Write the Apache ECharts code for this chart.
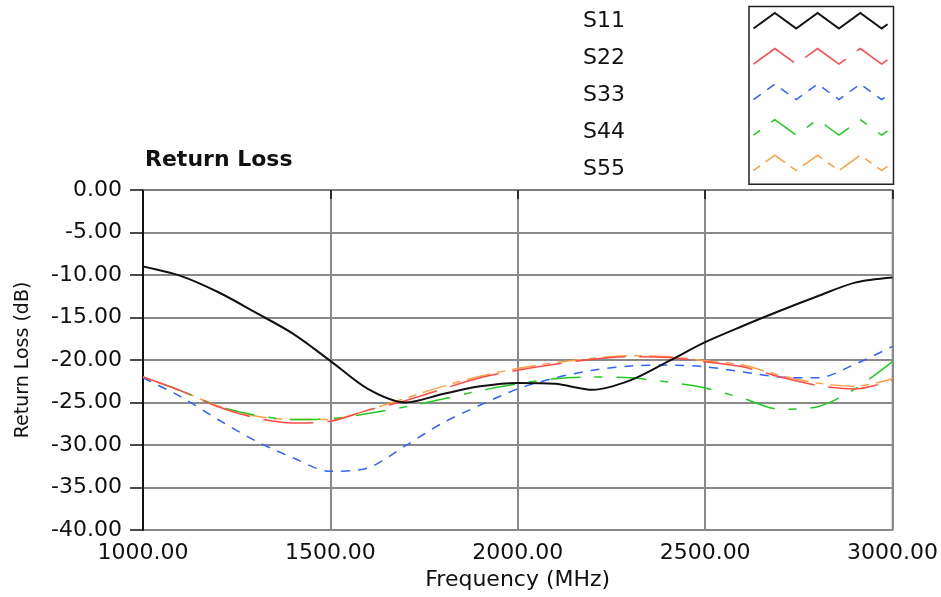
<!DOCTYPE html>
<html>
<head>
<meta charset="utf-8">
<script src="https://cdn.jsdelivr.net/npm/echarts@6/dist/echarts.min.js"></script>
<style>
html,body{margin:0;padding:0;background:#fff;}
#chart{width:941px;height:597px;}
</style>
</head>
<body>
<div id="chart"></div>
<script>
// ---- data ----
const freqMHz = [1000,1100,1200,1300,1400,1500,1600,1700,1800,1900,2000,2100,2200,2300,2400,2500,2600,2700,2800,2900,3000];
const s11 = [-9.0,-10.1,-12.0,-14.4,-16.9,-20.1,-23.4,-25.0,-24.0,-23.1,-22.7,-22.8,-23.5,-22.4,-20.2,-17.9,-16.0,-14.2,-12.5,-10.9,-10.3];
const s22 = [-22.0,-23.6,-25.5,-26.8,-27.4,-27.2,-25.9,-24.8,-23.4,-22.1,-21.2,-20.5,-19.9,-19.6,-19.7,-20.2,-20.8,-22.0,-23.0,-23.4,-22.4];
const s33 = [-22.1,-24.3,-27.0,-29.5,-31.5,-33.1,-32.7,-30.1,-27.4,-25.3,-23.4,-22.1,-21.2,-20.7,-20.6,-20.8,-21.4,-22.0,-22.1,-20.5,-18.4];
const s44 = [-22.0,-23.6,-25.4,-26.5,-27.0,-26.9,-26.3,-25.5,-24.6,-23.6,-22.8,-22.2,-22.0,-22.1,-22.6,-23.3,-24.5,-25.8,-25.5,-23.4,-20.2];
const s55 = [-22.0,-23.6,-25.4,-26.6,-27.0,-27.0,-25.9,-24.5,-23.1,-21.9,-21.0,-20.3,-19.8,-19.5,-19.6,-20.1,-20.6,-21.8,-22.7,-23.1,-22.2];
const seriesNames = ['S11','S22','S33','S44','S55'];
const yTicks = [-40,-35,-30,-25,-20,-15,-10,-5,0];
const xTicks = [1000,1500,2000,2500,3000];

// ---- styles ----
const seriesValues = [s11,s22,s33,s44,s55];
const colors = ['#111111','#ff4a4a','#2f62ff','#1ecc1e','#ffa040'];
const widths = [2,1.5,1.5,1.5,1.5];
const dashes = ['solid',[50,14],[9,8],[8,14,30,14],[8,7,24,7]];
const zigzag = 'path://M0,16L22,0L44,16L66,0L88,16L110,0L132,16L138,11.6';
const font = 'DejaVu Sans';

const chart = echarts.init(document.getElementById('chart'), null, {renderer:'canvas'});

const series = seriesNames.map((name,i)=>({
  name: name,
  type: 'line',
  data: freqMHz.map((f,k)=>[f, seriesValues[i][k]]),
  showSymbol: false,
  smooth: 0.3,
  lineStyle: {color: colors[i], width: widths[i], type: dashes[i]},
  itemStyle: {color: colors[i]},
  z: 10 - i
}));

chart.setOption({
  animation: false,
  backgroundColor: '#ffffff',
  title: {
    text: 'Return Loss', left: 145, top: 149, padding: 0,
    textStyle: {fontFamily: font, fontWeight: 'bold', fontSize: 22, color: '#111'}
  },
  legend: [
    {
      orient: 'vertical', left: 575, top: 6.5, padding: [4,1,11,2],
      itemWidth: 1, itemHeight: 16, itemGap: 15, icon: 'none',
      textStyle: {fontFamily: font, fontSize: 22, lineHeight: 16, color: '#111'},
      data: seriesNames
    },
    {
      orient: 'vertical', left: 749, top: 6.5, padding: [4,1,11,2],
      itemWidth: 134, itemHeight: 16, itemGap: 15, icon: zigzag,
      formatter: function(){ return ''; },
      textStyle: {fontSize: 10, lineHeight: 16},
      borderColor: '#222', borderWidth: 1.5,
      data: seriesNames.map((n,i)=>({
        name: n,
        itemStyle: {color: 'none', borderColor: colors[i], borderWidth: widths[i], borderType: dashes[i]}
      }))
    }
  ],
  grid: {
    left: 143, right: 48, top: 190, bottom: 67,
    show: true, borderColor: '#6e6e6e', borderWidth: 1.5
  },
  xAxis: {
    type: 'value', min: xTicks[0], max: xTicks[xTicks.length-1], interval: 500,
    name: 'Frequency (MHz)', nameLocation: 'middle', nameGap: 36,
    nameTextStyle: {fontFamily: font, fontSize: 22, color: '#111'},
    axisLine: {show: true, lineStyle: {color: '#7a7a7a', width: 1.5}},
    axisTick: {show: true, length: 9, lineStyle: {color: '#111', width: 1.5}},
    axisLabel: {fontFamily: font, fontSize: 22, color: '#111', margin: 12,
      formatter: v => v.toFixed(2)},
    splitLine: {show: true, lineStyle: {color: '#8a8a8a', width: 2}}
  },
  yAxis: {
    type: 'value', min: yTicks[0], max: yTicks[yTicks.length-1], interval: 5,
    name: 'Return Loss (dB)', nameLocation: 'middle', nameGap: 110, nameRotate: 90,
    nameTextStyle: {fontFamily: font, fontSize: 19, color: '#111'},
    axisLine: {show: true, onZero: false, lineStyle: {color: '#111', width: 2}},
    axisTick: {show: true, length: 13, lineStyle: {color: '#111', width: 1.5}},
    axisLabel: {fontFamily: font, fontSize: 22, color: '#111', margin: 21,
      formatter: v => v.toFixed(2)},
    splitLine: {show: true, lineStyle: {color: '#8a8a8a', width: 2}}
  },
  series: series
});
</script>
</body>
</html>
